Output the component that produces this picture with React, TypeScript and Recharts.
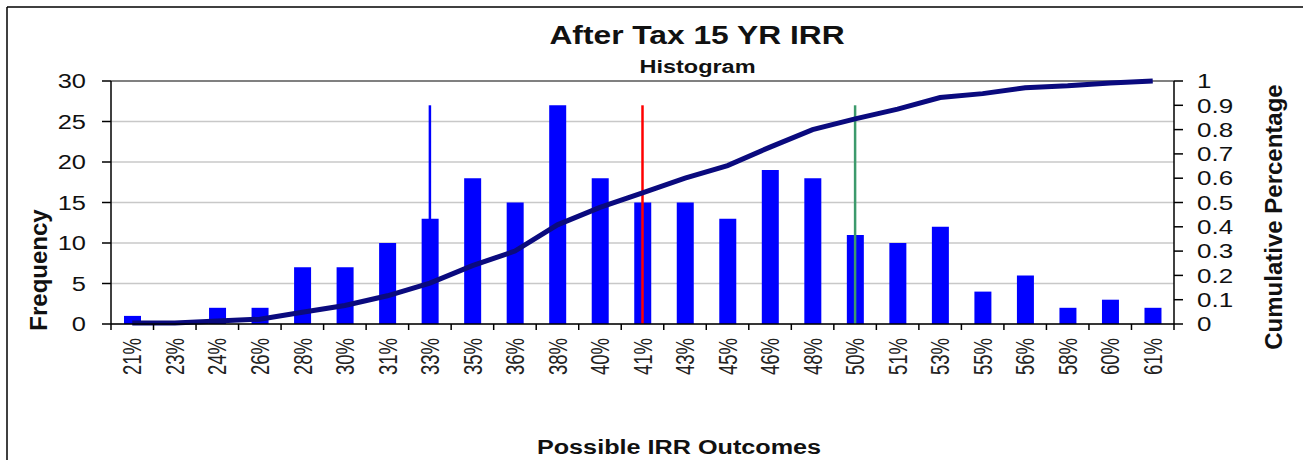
import {
  Bar,
  CartesianGrid,
  ComposedChart,
  Line,
  ReferenceLine,
  XAxis,
  YAxis,
} from "recharts";

const bins = [
  "21%", "23%", "24%", "26%", "28%", "30%", "31%", "33%", "35%", "36%",
  "38%", "40%", "41%", "43%", "45%", "46%", "48%", "50%", "51%", "53%",
  "55%", "56%", "58%", "60%", "61%",
];

const frequency = [
  1, 0, 2, 2, 7, 7, 10, 13, 18, 15, 27, 18, 15, 15, 13, 19, 18, 11, 10, 12,
  4, 6, 2, 3, 2,
];

const cumulative = [
  0.004, 0.004, 0.012, 0.02, 0.048, 0.076, 0.116, 0.168, 0.24, 0.3, 0.408,
  0.48, 0.54, 0.6, 0.652, 0.728, 0.8, 0.844, 0.884, 0.932, 0.948, 0.972,
  0.98, 0.992, 1,
];

const freqTicks = [0, 5, 10, 15, 20, 25, 30];
const pctTicks = [0, 0.1, 0.2, 0.3, 0.4, 0.5, 0.6, 0.7, 0.8, 0.9, 1];

// vertical marker lines (bin, colour), drawn up to markerTop on the frequency axis
const markers = [
  { bin: "33%", color: "#0000ff" },
  { bin: "41%", color: "#ff0000" },
  { bin: "50%", color: "#3c9a6c" },
];
const markerTop = 27;

const data = bins.map((bin, i) => ({
  bin,
  frequency: frequency[i],
  cumulative: cumulative[i],
}));

const FONT = "'Liberation Sans', Arial, sans-serif";
const W = 1303;
const H = 460;
const LEFT_W = 111;
const RIGHT_W = 129;
const BAND = (W - LEFT_W - RIGHT_W) / bins.length;

function XTick(props: any) {
  const { x, y, payload, index } = props;
  return (
    <g>
      <line x1={x - BAND / 2} y1={y} x2={x - BAND / 2} y2={y + 6} stroke="#000" strokeWidth={1.5} />
      {index === bins.length - 1 && (
        <line x1={x + BAND / 2} y1={y} x2={x + BAND / 2} y2={y + 6} stroke="#000" strokeWidth={1.5} />
      )}
      <g transform={`translate(${x},${y + 14}) scale(1.38,1) rotate(-90)`}>
        <text x={0} y={0} dy="0.36em" textAnchor="end" fontSize={18.5} fill="#222" fontFamily={FONT}>
          {payload.value}
        </text>
      </g>
    </g>
  );
}

function LeftTick(props: any) {
  const { x, y, payload } = props;
  return (
    <g transform={`translate(${x},${y}) scale(1.27,1)`}>
      <text x={0} y={0} dy="0.36em" textAnchor="end" fontSize={20} fill="#111" fontFamily={FONT}>
        {payload.value}
      </text>
    </g>
  );
}

function RightTick(props: any) {
  const { x, y, payload } = props;
  return (
    <g transform={`translate(${x},${y}) scale(1.3,1)`}>
      <text x={0} y={0} dy="0.36em" textAnchor="start" fontSize={20} fill="#111" fontFamily={FONT}>
        {payload.value}
      </text>
    </g>
  );
}

export default function App() {
  return (
    <div style={{ position: "absolute", left: 0, top: 0, width: W, height: H, background: "#fff" }}>
      <ComposedChart
        width={W}
        height={H}
        data={data}
        margin={{ top: 81, right: 0, bottom: 0, left: 0 }}
        barCategoryGap={0}
      >
        <CartesianGrid yAxisId="left" vertical={false} stroke="#c8c8c8" strokeWidth={1.5} />
        <XAxis
          dataKey="bin"
          height={136}
          interval={0}
          tickLine={false}
          tickSize={0}
          tickMargin={0}
          axisLine={{ stroke: "#000", strokeWidth: 1.5 }}
          tick={<XTick />}
        />
        <YAxis
          yAxisId="left"
          width={LEFT_W}
          domain={[0, 30]}
          ticks={freqTicks}
          tickSize={9}
          tickMargin={16}
          axisLine={{ stroke: "#000", strokeWidth: 1.5 }}
          tickLine={{ stroke: "#000", strokeWidth: 1.5 }}
          tick={<LeftTick />}
        />
        <YAxis
          yAxisId="right"
          orientation="right"
          width={RIGHT_W}
          domain={[0, 1]}
          ticks={pctTicks}
          tickSize={9}
          tickMargin={14}
          axisLine={{ stroke: "#000", strokeWidth: 1.5 }}
          tickLine={{ stroke: "#000", strokeWidth: 1.5 }}
          tick={<RightTick />}
        />
        <ReferenceLine yAxisId="left" y={30} stroke="#808080" strokeWidth={2} />
        <Bar yAxisId="left" dataKey="frequency" fill="#0000ff" barSize={17} isAnimationActive={false} />
        {markers.map((m) => (
          <ReferenceLine
            key={m.bin}
            yAxisId="left"
            segment={[
              { x: m.bin, y: 0 },
              { x: m.bin, y: markerTop },
            ]}
            stroke={m.color}
            strokeWidth={2.5}
          />
        ))}
        <Line
          yAxisId="right"
          dataKey="cumulative"
          type="linear"
          stroke="#0a0a7e"
          strokeWidth={5}
          dot={false}
          isAnimationActive={false}
        />
      </ComposedChart>

      <svg
        width={W}
        height={H}
        style={{ position: "absolute", left: 0, top: 0, pointerEvents: "none" }}
        fontFamily={FONT}
        fontWeight="bold"
        fill="#111"
      >
        <line x1={7} y1={7} x2={W} y2={7} stroke="#000" strokeWidth={1.5} />
        <line x1={7} y1={7} x2={7} y2={H} stroke="#000" strokeWidth={1.5} />
        <text transform="translate(697,44) scale(1.27,1)" textAnchor="middle" fontSize={25}>
          After Tax 15 YR IRR
        </text>
        <text transform="translate(697.5,73) scale(1.27,1)" textAnchor="middle" fontSize={18.5}>
          Histogram
        </text>
        <text transform="translate(679,454) scale(1.2,1)" textAnchor="middle" fontSize={21}>
          Possible IRR Outcomes
        </text>
        <text transform="translate(47,270) rotate(-90)" textAnchor="middle" fontSize={24}>
          Frequency
        </text>
        <text transform="translate(1282,217) rotate(-90)" textAnchor="middle" fontSize={24}>
          Cumulative Percentage
        </text>
      </svg>
    </div>
  );
}
